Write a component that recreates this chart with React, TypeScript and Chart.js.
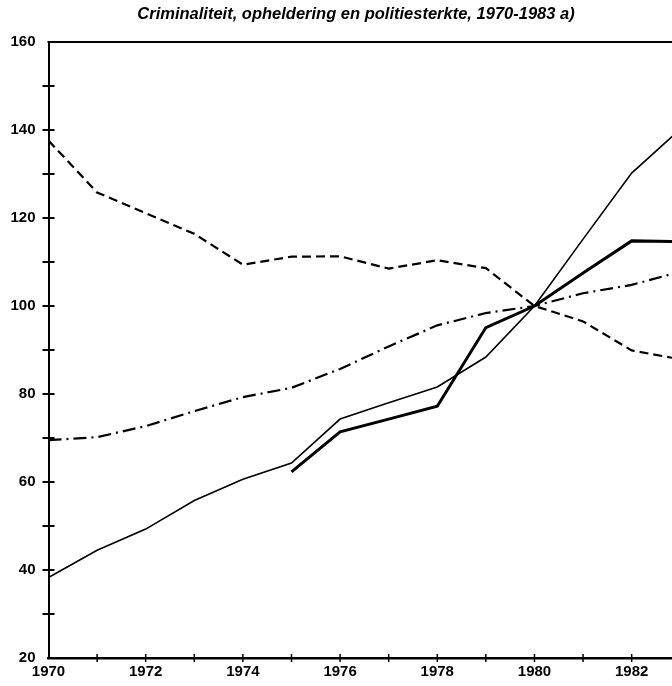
import React, { useEffect, useRef } from "react";
import { Chart, registerables } from "chart.js";

Chart.register(...registerables);

// ---- data (index, 1980 = 100) ----
const years = [1970, 1971, 1972, 1973, 1974, 1975, 1976, 1977, 1978, 1979, 1980, 1981, 1982, 1983];
const opheldering = [137.6, 125.8, 121.1, 116.4, 109.4, 111.2, 111.3, 108.5, 110.4, 108.6, 100, 96.5, 89.9, 87.9];
const politiesterkte = [69.5, 70.2, 72.7, 76.1, 79.3, 81.4, 85.7, 90.8, 95.6, 98.4, 100, 102.9, 104.8, 107.8];
const criminaliteit = [38.3, 44.5, 49.3, 55.8, 60.6, 64.3, 74.3, 78.0, 81.6, 88.4, 100, 115.2, 130.2, 140.2];
const criminaliteitNieuw = [null, null, null, null, null, 62.3, 71.4, 74.3, 77.2, 95.1, 100, 107.5, 114.8, 114.6];
const yTickLabels = [20, 40, 60, 80, 100, 120, 140, 160];
const xTickLabels = [1970, 1972, 1974, 1976, 1978, 1980, 1982];
const titleText = "Criminaliteit, opheldering en politiesterkte, 1970-1983 a)";

const FONT = '"Liberation Sans", Arial, sans-serif';

export default function App() {
  const ref = useRef<HTMLCanvasElement>(null);

  useEffect(() => {
    if (!ref.current) return;
    const pts = (arr: (number | null)[]) => years.map((yr, i) => ({ x: yr, y: arr[i] }));

    const decor = {
      id: "decor",
      afterDraw(chart: any) {
        const { ctx, chartArea, scales } = chart;
        const xs = scales.x;
        const ys = scales.y;
        ctx.save();
        ctx.strokeStyle = "#000";
        ctx.fillStyle = "#000";
        // top frame line
        ctx.lineWidth = 2;
        const top = ys.getPixelForValue(160);
        ctx.beginPath();
        ctx.moveTo(chartArea.left - 1, top);
        ctx.lineTo(chart.width, top);
        ctx.stroke();
        // crossing y ticks
        ctx.lineWidth = 2;
        for (let v = 30; v <= 150; v += 10) {
          const py = ys.getPixelForValue(v);
          ctx.beginPath();
          ctx.moveTo(chartArea.left - 6, py);
          ctx.lineTo(chartArea.left + 6, py);
          ctx.stroke();
        }
        // crossing x ticks
        ctx.lineWidth = 1.5;
        for (let yr = years[0] + 1; yr <= 1982; yr++) {
          const px = xs.getPixelForValue(yr);
          ctx.beginPath();
          ctx.moveTo(px, chartArea.bottom - 4);
          ctx.lineTo(px, chartArea.bottom + 4);
          ctx.stroke();
        }
        // title
        ctx.font = `italic bold 16.5px ${FONT}`;
        ctx.textAlign = "center";
        ctx.textBaseline = "middle";
        ctx.fillText(titleText, 356, 14);
        ctx.restore();
      },
    };

    const chart = new Chart(ref.current, {
      type: "line",
      data: {
        datasets: [
          {
            label: "Opheldering",
            data: pts(opheldering),
            borderColor: "#000",
            borderWidth: 2.2,
            borderDash: [9, 5],
            pointRadius: 0,
            tension: 0,
          },
          {
            label: "Politiesterkte",
            data: pts(politiesterkte),
            borderColor: "#000",
            borderWidth: 2.2,
            borderDash: [13, 5, 2, 5],
            pointRadius: 0,
            tension: 0,
          },
          {
            label: "Criminaliteit",
            data: pts(criminaliteit),
            borderColor: "#000",
            borderWidth: 1.6,
            pointRadius: 0,
            tension: 0,
          },
          {
            label: "Criminaliteit (nieuw)",
            data: pts(criminaliteitNieuw),
            borderColor: "#000",
            borderWidth: 3,
            pointRadius: 0,
            tension: 0,
            spanGaps: false,
          },
        ],
      },
      options: {
        animation: false,
        responsive: true,
        maintainAspectRatio: false,
        layout: { padding: { top: 42, left: 0, right: 0, bottom: 0 } },
        plugins: {
          legend: { display: false },
          title: { display: false },
          tooltip: { enabled: false },
        },
        scales: {
          x: {
            type: "linear",
            min: 1970,
            max: 1982.83,
            grid: { display: false, drawTicks: false },
            border: { display: true, color: "#000", width: 2.5 },
            afterFit: (s: any) => {
              s.height = 28;
            },
            ticks: {
              stepSize: 1,
              autoSkip: false,
              maxRotation: 0,
              includeBounds: false,
              padding: 5,
              color: "#000",
              font: { family: FONT, size: 15, weight: "bold" },
              callback: (v: any) => (xTickLabels.includes(Number(v)) ? String(v) : ""),
            },
          },
          y: {
            min: 20,
            max: 160,
            grid: { display: false, drawTicks: false },
            border: { display: true, color: "#000", width: 2 },
            afterFit: (s: any) => {
              s.width = 48.5;
            },
            ticks: {
              stepSize: 10,
              autoSkip: false,
              padding: 13,
              color: "#000",
              font: { family: FONT, size: 15, weight: "bold" },
              callback: (v: any) => (yTickLabels.includes(Number(v)) ? String(v) : ""),
            },
          },
        },
      },
      plugins: [decor],
    });
    return () => chart.destroy();
  }, []);

  return (
    <div style={{ position: "fixed", left: 0, top: 0, width: 672, height: 686, background: "#fff" }}>
      <canvas ref={ref} />
    </div>
  );
}
